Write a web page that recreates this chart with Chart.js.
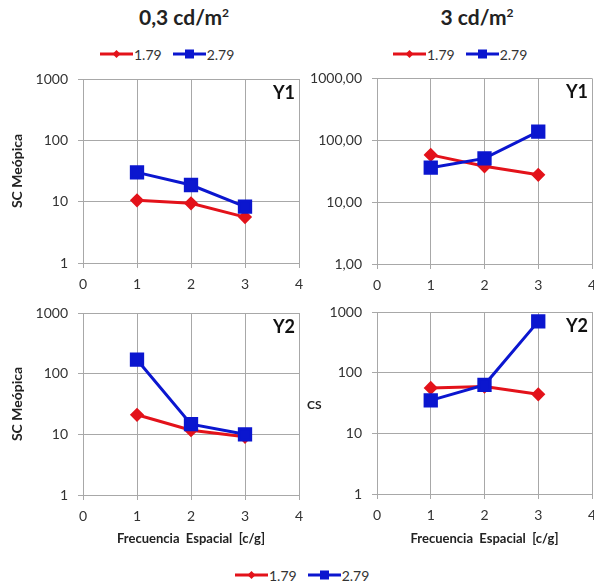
<!DOCTYPE html>
<html>
<head>
<meta charset="utf-8">
<script src="https://cdn.jsdelivr.net/npm/chart.js@4/dist/chart.umd.min.js"></script>
<style>
  body { margin: 0; background: #fff; font-family: Lato, "Open Sans", sans-serif; color: #222; }
  #page { position: relative; width: 594px; height: 584px; overflow: hidden; }
  canvas { position: absolute; }
  .head { position: absolute; top: 4px; font-weight: bold; font-size: 21px; transform: translateX(-50%); white-space: nowrap; }
  .head sup { font-size: 12px; }
  .legend { position: absolute; display: flex; align-items: center; font-size: 14px; color: #333; height: 16px; }
  .legend span { margin-right: 11px; margin-left: 1px; }
  .cs { position: absolute; left: 307px; top: 397px; font-weight: bold; font-size: 12px; }
</style>
</head>
<body>
<div id="page">
  <div class="head" style="left:184px">0,3 cd/m<sup>2</sup></div>
  <div class="head" style="left:477px">3 cd/m<sup>2</sup></div>

  <div class="legend" style="left:100px; top:46px"></div>
  <div class="legend" style="left:393px; top:46px"></div>
  <div class="legend" style="left:235px; top:567px"></div>

  <canvas id="chartY1Low" width="313" height="240" style="left:0; top:60px"></canvas>
  <canvas id="chartY1High" width="306" height="240" style="left:300px; top:60px"></canvas>
  <canvas id="chartY2Low" width="313" height="260" style="left:0; top:290px"></canvas>
  <canvas id="chartY2High" width="306" height="260" style="left:300px; top:290px"></canvas>
  <div class="cs">CS</div>
</div>

<script>
// spatial frequency (c/g)
const freq = [1, 2, 3];
const seriesNames = ['1.79', '2.79'];

// Y1, 0.3 cd/m2
const y1Low179 = [10.5, 9.4, 5.6];
const y1Low279 = [30, 18.7, 8.3];
// Y1, 3 cd/m2
const y1High179 = [58, 38, 27.6];
const y1High279 = [36, 51, 138];
// Y2, 0.3 cd/m2
const y2Low179 = [21, 11.7, 9.1];
const y2Low279 = [170, 14.7, 10];
// Y2, 3 cd/m2
const y2High179 = [56, 59, 44];
const y2High279 = [35, 63, 700];

const yTickValues = [1, 10, 100, 1000];
const yTickLabels = ['1', '10', '100', '1000'];
const yTickLabelsDec = ['1,00', '10,00', '100,00', '1000,00'];
const xTickValues = [0, 1, 2, 3, 4];

const RED = '#e3121a';
const BLUE = '#0b16cf';
const GRID = '#a8a8a8';
const FONT = 'Lato, "Open Sans", sans-serif';

// legends (html, line + marker)
function legendHtml() {
  const red = '<svg width="33" height="12"><line x1="0" y1="6" x2="33" y2="6" stroke="' + RED + '" stroke-width="3"/>' +
    '<polygon points="16.5,2 20.5,6 16.5,10 12.5,6" fill="' + RED + '"/></svg>';
  const blue = '<svg width="33" height="12"><line x1="0" y1="6" x2="33" y2="6" stroke="' + BLUE + '" stroke-width="3"/>' +
    '<rect x="12" y="1.5" width="9" height="9" fill="' + BLUE + '"/></svg>';
  return red + '<span>' + seriesNames[0] + '</span>' + blue + '<span>' + seriesNames[1] + '</span>';
}
document.querySelectorAll('.legend').forEach(el => { el.innerHTML = legendHtml(); });

// "Y1" / "Y2" in the plot corner
const panelLabel = {
  id: 'panelLabel',
  afterDraw(chart, args, opts) {
    if (!opts.text) return;
    const { ctx, chartArea } = chart;
    ctx.save();
    ctx.font = 'bold 18px ' + FONT;
    ctx.fillStyle = '#111';
    ctx.textAlign = 'right';
    ctx.textBaseline = 'middle';
    ctx.fillText(opts.text, chartArea.right - 4, chartArea.top + 14);
    ctx.restore();
  }
};

function makeChart(id, red, blue, cfg) {
  return new Chart(document.getElementById(id), {
    type: 'line',
    data: {
      datasets: [
        {
          label: seriesNames[0],
          data: freq.map((f, i) => ({ x: f, y: red[i] })),
          borderColor: RED, backgroundColor: RED,
          borderWidth: 3, pointStyle: 'rectRot', pointRadius: 5,
          order: 1
        },
        {
          label: seriesNames[1],
          data: freq.map((f, i) => ({ x: f, y: blue[i] })),
          borderColor: BLUE, backgroundColor: BLUE,
          borderWidth: 3, pointStyle: 'rect', pointRadius: 8,
          order: 0
        }
      ]
    },
    options: {
      responsive: false,
      animation: false,
      devicePixelRatio: 1,
      layout: { padding: cfg.padding },
      plugins: {
        legend: { display: false },
        tooltip: { enabled: false },
        panelLabel: { text: cfg.label }
      },
      scales: {
        x: {
          type: 'linear', min: 0, max: 4,
          afterBuildTicks: s => { s.ticks = xTickValues.map(v => ({ value: v })); },
          afterFit: s => { s.height = cfg.xHeight; },
          grid: { color: GRID, tickLength: 5 },
          border: { color: GRID },
          ticks: { color: '#333', padding: 8, font: { family: FONT, size: 14 } },
          title: {
            display: !!cfg.xTitle, text: cfg.xTitle, color: '#222',
            font: { family: FONT, size: 13, weight: 'bold' }, padding: { top: 4, bottom: 3 }
          }
        },
        y: {
          type: 'logarithmic', min: 1, max: 1000,
          afterBuildTicks: s => { s.ticks = yTickValues.map(v => ({ value: v })); },
          afterFit: s => { s.width = cfg.yWidth; },
          grid: { color: GRID, tickLength: 5 },
          border: { color: GRID },
          ticks: {
            color: '#333', padding: 10, font: { family: FONT, size: 14 },
            callback: (v, i) => cfg.yLabels[i]
          },
          title: {
            display: !!cfg.yTitle, text: cfg.yTitle, color: '#222',
            font: { family: FONT, size: 14, weight: 'bold' }, padding: { top: 9, bottom: 0 }
          }
        }
      }
    },
    plugins: [panelLabel]
  });
}

makeChart('chartY1Low', y1Low179, y1Low279, {
  label: 'Y1', yLabels: yTickLabels, yTitle: 'SC Meópica', xTitle: '',
  padding: { top: 19, right: 14, left: 0, bottom: 0 }, yWidth: 83, xHeight: 37
});
makeChart('chartY1High', y1High179, y1High279, {
  label: 'Y1', yLabels: yTickLabelsDec, yTitle: '', xTitle: '',
  padding: { top: 17, right: 14, left: 0, bottom: 0 }, yWidth: 77, xHeight: 36
});
makeChart('chartY2Low', y2Low179, y2Low279, {
  label: 'Y2', yLabels: yTickLabels, yTitle: 'SC Meópica', xTitle: 'Frecuencia  Espacial  [c/g]',
  padding: { top: 23, right: 14, left: 0, bottom: 0 }, yWidth: 83, xHeight: 55
});
makeChart('chartY2High', y2High179, y2High279, {
  label: 'Y2', yLabels: yTickLabels, yTitle: '', xTitle: 'Frecuencia  Espacial  [c/g]',
  padding: { top: 22, right: 14, left: 0, bottom: 0 }, yWidth: 77, xHeight: 56
});
</script>
</body>
</html>
